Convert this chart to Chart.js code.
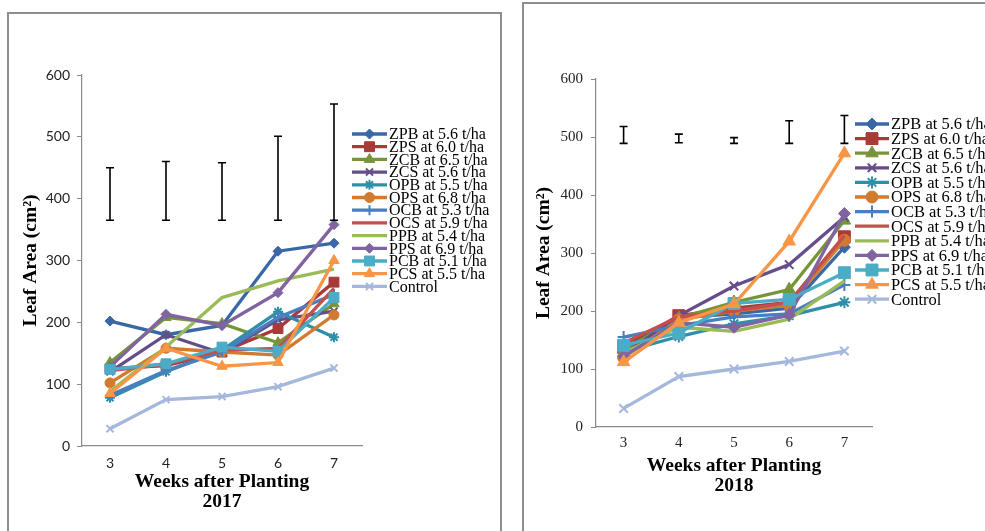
<!DOCTYPE html>
<html><head><meta charset="utf-8">
<script src="https://cdn.jsdelivr.net/npm/chart.js@4.4.1/dist/chart.umd.min.js"></script>
<style>
html,body{margin:0;padding:0;background:#fff;width:985px;height:531px;overflow:hidden}
.panel{position:absolute;border:2px solid #8e8e8e;background:#fff;box-sizing:border-box}
canvas{position:absolute;top:0}
</style></head><body>
<div class="panel" style="left:7px;top:12px;width:495px;height:560px"></div>
<div class="panel" style="left:522px;top:2px;width:500px;height:560px"></div>
<canvas id="c1" width="512" height="531" style="left:0"></canvas>
<canvas id="c2" width="473" height="531" style="left:512px"></canvas>
<script>
// ---------- data ----------
const weeks = ['3', '4', '5', '6', '7'];
const seriesNames = ['ZPB at 5.6 t/ha','ZPS at 6.0 t/ha','ZCB at 6.5 t/ha','ZCS at 5.6 t/ha','OPB at 5.5 t/ha','OPS at 6.8 t/ha','OCB at 5.3 t/ha','OCS at 5.9 t/ha','PPB at 5.4 t/ha','PPS at 6.9 t/ha','PCB at 5.1 t/ha','PCS at 5.5 t/ha','Control'];
const yTicks = [0, 100, 200, 300, 400, 500, 600];

// 2017
const zpb2017 = [202, 180, 195, 315, 328];
const zps2017 = [125, 130, 152, 190, 265];
const zcb2017 = [135, 208, 198, 167, 230];
const zcs2017 = [120, 180, 150, 204, 218];
const opb2017 = [78, 120, 155, 217, 176];
const ops2017 = [102, 158, 152, 147, 212];
const ocb2017 = [82, 122, 152, 208, 245];
const ocs2017 = [122, 132, 155, 158, 255];
const ppb2017 = [88, 160, 240, 267, 286];
const pps2017 = [128, 213, 195, 248, 358];
const pcb2017 = [124, 133, 160, 153, 240];
const pcs2017 = [85, 158, 129, 135, 300];
const control2017 = [28, 75, 80, 96, 126];
const errLow2017 = [365, 365, 365, 365, 365];
const errHigh2017 = [450, 460, 458, 501, 553];

// 2018
const zpb2018 = [128, 188, 195, 205, 310];
const zps2018 = [138, 192, 205, 215, 328];
const zcb2018 = [133, 188, 215, 237, 356];
const zcs2018 = [125, 192, 243, 280, 362];
const opb2018 = [130, 156, 178, 192, 215];
const ops2018 = [120, 185, 200, 210, 322];
const ocb2018 = [155, 175, 190, 195, 245];
const ocs2018 = [145, 190, 200, 215, 330];
const ppb2018 = [128, 172, 165, 186, 252];
const pps2018 = [122, 180, 172, 193, 368];
const pcb2018 = [141, 162, 213, 220, 266];
const pcs2018 = [112, 180, 212, 320, 472];
const control2018 = [32, 87, 100, 113, 131];
const errLow2018 = [489, 490, 489, 489, 489];
const errHigh2018 = [518, 505, 499, 528, 537];

// ---------- styles ----------
const colors = ['#3A68A6','#A83A38','#779538','#654D8A','#2F8FA8','#D27A30','#4A7EC0','#C4504D','#9BBB59','#8064A2','#4BACC6','#F79646','#A5B8DC'];
const markers = ['rectRot','rect','triangle','crossRot','star','circle','cross',null,null,'rectRot','rect','triangle','crossRot'];
const markerSize = {rectRot:5, rect:7, triangle:6, crossRot:5, star:5, circle:5, cross:5};

function buildDatasets(vals, k) {
  return seriesNames.map((n, i) => ({
    label: n,
    data: vals[i],
    borderColor: colors[i],
    backgroundColor: colors[i],
    pointBackgroundColor: colors[i],
    pointBorderColor: colors[i],
    pointStyle: markers[i] || 'circle',
    pointRadius: markers[i] ? markerSize[markers[i]] * k : 0,
    pointHoverRadius: 0,
    pointBorderWidth: (markers[i] && markers[i].indexOf('cross') === 0) || markers[i] === 'star' ? 2 : 1,
    borderWidth: 3.3,
    tension: 0,
    order: seriesNames.length - i
  }));
}

function errorBars(low, high) {
  return {
    id: 'errbars',
    afterDatasetsDraw(chart) {
      const {ctx, scales: {x, y}} = chart;
      ctx.save();
      ctx.strokeStyle = '#000';
      ctx.lineWidth = 1.6;
      low.forEach((lo, i) => {
        const px = x.getPixelForValue(i);
        const y1 = y.getPixelForValue(lo), y2 = y.getPixelForValue(high[i]);
        ctx.beginPath();
        ctx.moveTo(px, y1); ctx.lineTo(px, y2);
        ctx.moveTo(px - 4, y1); ctx.lineTo(px + 4, y1);
        ctx.moveTo(px - 4, y2); ctx.lineTo(px + 4, y2);
        ctx.stroke();
      });
      ctx.restore();
    }
  };
}

function legendPlugin(cfg) {
  return {
    id: 'customLegend',
    afterDraw(chart) {
      const ctx = chart.ctx;
      ctx.save();
      chart.data.datasets.forEach((ds, i) => {
        const yy = cfg.y + i * cfg.dy;
        ctx.strokeStyle = ds.borderColor;
        ctx.lineWidth = 3.3;
        ctx.beginPath(); ctx.moveTo(cfg.x, yy); ctx.lineTo(cfg.x + cfg.len, yy); ctx.stroke();
        if (ds.pointRadius > 0) {
          ctx.fillStyle = ds.borderColor;
          ctx.strokeStyle = ds.borderColor;
          ctx.lineWidth = ds.pointBorderWidth;
          Chart.helpers.drawPoint(ctx, {pointStyle: ds.pointStyle, radius: ds.pointRadius, borderWidth: ds.pointBorderWidth, rotation: 0}, cfg.x + cfg.len / 2, yy);
        }
        ctx.fillStyle = '#000';
        ctx.font = cfg.font;
        ctx.textBaseline = 'middle';
        ctx.textAlign = 'left';
        ctx.fillText(ds.label, cfg.x + cfg.len + 2, yy + 1);
      });
      ctx.restore();
    }
  };
}

function makeChart(id, vals, o) {
  return new Chart(document.getElementById(id), {
    type: 'line',
    data: {labels: weeks, datasets: buildDatasets(vals, o.k)},
    options: {
      responsive: false,
      animation: false,
      events: [],
      layout: {padding: {left: 0, top: o.top, right: o.right, bottom: 0}},
      plugins: {legend: {display: false}, tooltip: {enabled: false}},
      scales: {
        x: {
          offset: true,
          afterFit: s => { s.height = o.xh; },
          grid: {display: true, drawOnChartArea: false, drawTicks: false},
          border: {display: true, color: '#8a8a8a', width: 1.2},
          ticks: {color: '#222', padding: o.xpad, font: o.tickFont},
          title: {display: true, text: ['Weeks after Planting', o.year], color: '#000',
                  font: {family: 'Liberation Serif', size: 19.5, weight: 'bold', lineHeight: 1.03},
                  padding: {top: 0, bottom: o.titleBottom}}
        },
        y: {
          min: 0, max: 600,
          afterFit: s => { s.width = o.yw; },
          afterBuildTicks: s => { s.ticks = yTicks.map(v => ({value: v})); },
          grid: {display: true, drawOnChartArea: false, drawTicks: true, tickLength: 5, color: '#8a8a8a'},
          border: {display: true, color: '#8a8a8a', width: 1.2},
          ticks: {color: '#222', padding: o.ypad, font: o.tickFont},
          title: {display: true, text: 'Leaf Area (cm²)', color: '#000',
                  font: {family: 'Liberation Serif', size: 19.5, weight: 'bold', lineHeight: 1.2},
                  padding: {top: o.ytitlePad, bottom: 0}}
        }
      }
    },
    plugins: [errorBars(o.low, o.high), legendPlugin(o.legend)]
  });
}

makeChart('c1',
  [zpb2017, zps2017, zcb2017, zcs2017, opb2017, ops2017, ocb2017, ocs2017, ppb2017, pps2017, pcb2017, pcs2017, control2017],
  {k: 1, top: 75, right: 150, xh: 85, yw: 82, xpad: 9, ypad: 7, titleBottom: 19, ytitlePad: 19, year: '2017',
   tickFont: {family: 'Lato', size: 14},
   low: errLow2017, high: errHigh2017,
   legend: {x: 352, y: 134, dy: 12.7, len: 35, font: '16px "Liberation Serif"'}});

makeChart('c2',
  [zpb2018, zps2018, zcb2018, zcs2018, opb2018, ops2018, ocb2018, ocs2018, ppb2018, pps2018, pcb2018, pcs2018, control2018],
  {k: 1.2, top: 79, right: 113, xh: 104, yw: 84, xpad: 7, ypad: 8, titleBottom: 35, ytitlePad: 20, year: '2018',
   tickFont: {family: 'Liberation Serif', size: 15},
   low: errLow2018, high: errHigh2018,
   legend: {x: 343, y: 124, dy: 14.6, len: 34, font: '16.5px "Liberation Serif"'}});
</script>
</body></html>
